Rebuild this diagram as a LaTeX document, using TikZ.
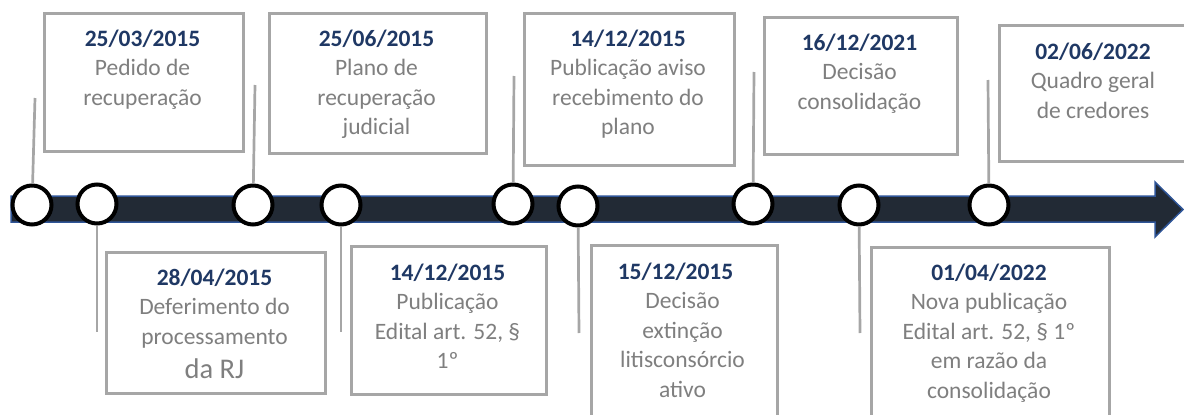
\documentclass[tikz,border=0pt]{standalone}
\usepackage{fontspec}
\setmainfont{Carlito}
\usepackage{tikz}
\definecolor{datablue}{HTML}{1F3864}
\definecolor{textgray}{HTML}{7F7F7F}
\definecolor{linegray}{HTML}{A6A6A6}
\definecolor{barfill}{HTML}{222A35}
\definecolor{barblue}{HTML}{2F5597}
\tikzset{
	box/.style={draw=linegray, line width=3pt, fill=white, inner sep=0pt, anchor=north west},
	txt/.style={text=textgray, align=center, anchor=north, inner sep=0pt, font=\fontsize{23.5}{29.5}\selectfont},
	dot/.style={circle, draw=black, fill=white, line width=4pt, minimum size=39pt, inner sep=0pt},
	stem/.style={draw=linegray, line width=2.7pt}
}
\newcommand{\datum}[1]{{\bfseries\color{datablue}#1}}

\begin{document}
\begin{tikzpicture}[x=1pt,y=-1pt]
		%%%%% START %%%%%
		\useasboundingbox (0,0) rectangle (1184,415);
		
		% caixas de cima
		\node[box, minimum width=199, minimum height=138] (b1) at (43,12) {};
		\node[box, minimum width=217, minimum height=140] (b3) at (268,12) {};
		\node[box, minimum width=210, minimum height=152] (b5) at (523,12) {};
		\node[box, minimum width=193, minimum height=137] (b7) at (763,16) {};
		\node[box, minimum width=195, minimum height=136] (b9) at (998,24) {};
		
		% caixas de baixo
		\node[box, minimum width=219, minimum height=141] (b2) at (105,251) {};
		\node[box, minimum width=195, minimum height=148] (b4) at (350,245) {};
		\node[box, minimum width=186, minimum height=190] (b6) at (590,244) {};
		\node[box, minimum width=238, minimum height=190] (b8) at (870,246) {};
		
		\node[txt] (l1) at (142.5,29.5) {\datum{25/03/2015}\\Pedido de\\recuperação};
		\node[txt] (l3) at (376.5,29.5) {\datum{25/06/2015}\\Plano de\\recuperação\\judicial};
		\node[txt] (l5) at (628,29.5) {\datum{14/12/2015}\\Publicação aviso\\recebimento do\\plano};
		\node[txt] (l7) at (859.5,33.5) {\datum{16/12/2021}\\Decisão\\consolidação};
		\node[txt] (l9) at (1093,42.5) {\datum{02/06/2022}\\Quadro geral\\de credores};
		
		\node[txt] (l2) at (214.5,268.5) {\datum{28/04/2015}\\Deferimento do\\processamento\\[5pt]{\fontsize{28.5}{33}\selectfont da RJ}};
		\node[txt] (l4) at (447.5,263.5) {\datum{14/12/2015}\\Publicação\\Edital art. 52, §\\1º};
		\node[txt] (l6) at (682.5,262.5) {\datum{15/12/2015}\hspace*{14pt}\\Decisão\\extinção\\litisconsórcio\\ativo};
		\node[txt] (l8) at (989,263.5) {\datum{01/04/2022}\\Nova publicação\\Edital art. 52, § 1º\\em razão da\\consolidação};
		
		% linha do tempo
		\draw[fill=barfill, draw=barblue, line width=1.5pt] (11,196) -- (1155,196) -- (1155,182) -- (1183,209.5) -- (1155,237) -- (1155,222) -- (11,222) -- cycle;
		
		\node[dot] (c1) at (32,205) {};
		\node[dot] (c2) at (97,204) {};
		\node[dot] (c3) at (253,205) {};
		\node[dot] (c4) at (341,205) {};
		\node[dot] (c5) at (513,204) {};
		\node[dot] (c6) at (578,206) {};
		\node[dot] (c7) at (753,204) {};
		\node[dot] (c8) at (859,205) {};
		\node[dot] (c9) at (989,205) {};
		
		\coordinate (t1) at (35,98);
		\coordinate (t2) at (97,332);
		\coordinate (t3) at (255,85);
		\coordinate (t4) at (341,332);
		\coordinate (t5) at (514,76);
		\coordinate (t6) at (579,333);
		\coordinate (t7) at (754,72);
		\coordinate (t8) at (860,333);
		\coordinate (t9) at (988,80);
		
		\foreach \i in {1,...,9}
			\draw[stem] (c\i) -- (t\i);
		%%%%% END %%%%%
	\end{tikzpicture}
\end{document}
